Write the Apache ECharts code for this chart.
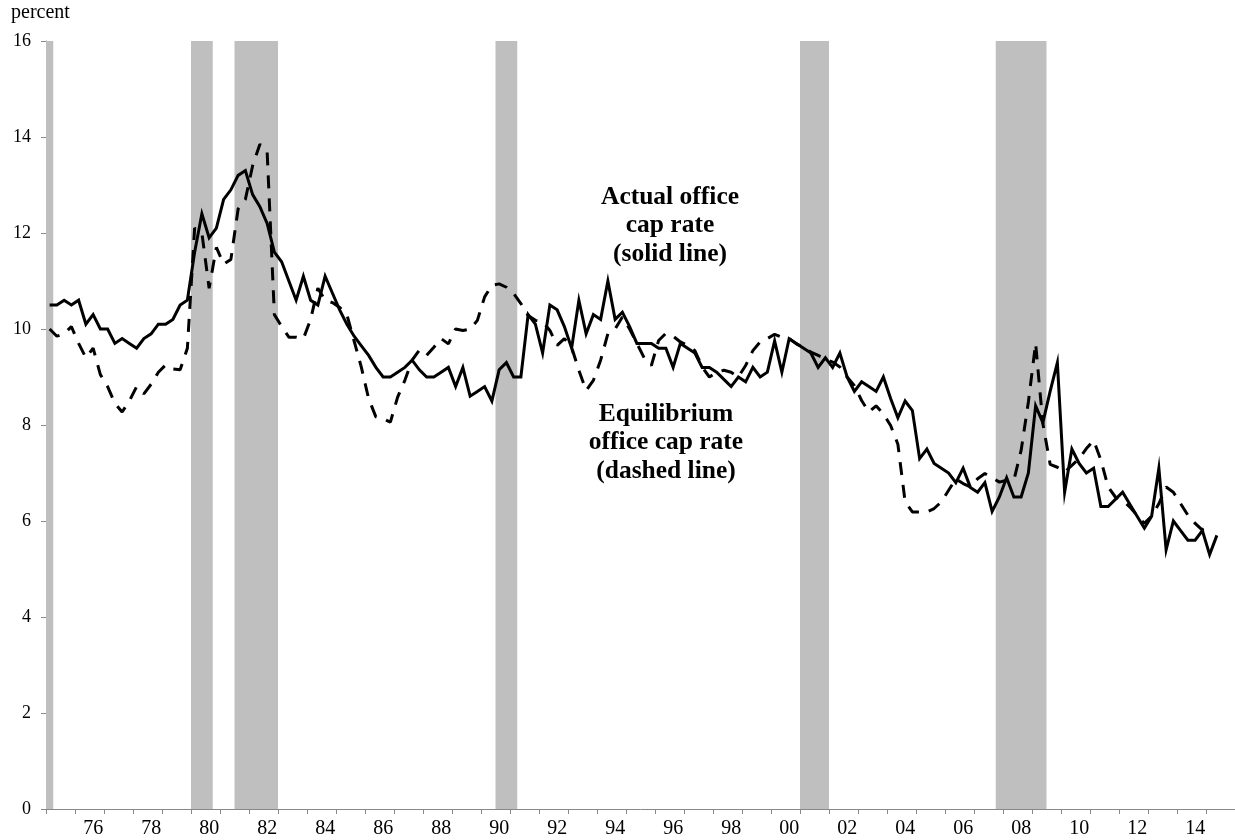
<!DOCTYPE html>
<html>
<head>
<meta charset="utf-8">
<script src="https://cdn.jsdelivr.net/npm/echarts@6/dist/echarts.min.js"></script>
<style>
  html, body { margin: 0; padding: 0; background: #fff; }
  #myChart { width: 1235px; height: 840px; }
</style>
</head>
<body>
<div id="myChart"></div>
<script>
// quarters 1975Q1 .. 2015Q4
var firstYear = 1975;
var lastYear = 2015;
var quarters = [];
for (var y = firstYear; y <= lastYear; y++) {
  for (var q = 1; q <= 4; q++) quarters.push(y + 'Q' + q);
}

// actual office cap rate (solid line), percent, 1975Q1 .. 2015Q2
var actualRate = [
  10.5, 10.5, 10.6, 10.5, 10.6, 10.1, 10.3, 10.0, 10.0, 9.7,
  9.8, 9.7, 9.6, 9.8, 9.9, 10.1, 10.1, 10.2, 10.5, 10.6,
  11.6, 12.4, 11.9, 12.1, 12.7, 12.9, 13.2, 13.3, 12.8, 12.55,
  12.2, 11.6, 11.4, 11.0, 10.6, 11.1, 10.6, 10.5, 11.1, 10.75,
  10.4, 10.1, 9.85, 9.65, 9.45, 9.2, 9.0, 9.0, 9.1, 9.2,
  9.35, 9.15, 9.0, 9.0, 9.1, 9.2, 8.8, 9.2, 8.6, 8.7,
  8.8, 8.5, 9.15, 9.3, 9.0, 9.0, 10.3, 10.1, 9.5, 10.5,
  10.4, 10.05, 9.6, 10.6, 9.9, 10.3, 10.2, 11.0, 10.2, 10.35,
  10.05, 9.7, 9.7, 9.7, 9.6, 9.6, 9.2, 9.7, 9.6, 9.5,
  9.2, 9.2, 9.1, 8.95, 8.8, 9.0, 8.9, 9.2, 9.0, 9.1,
  9.75, 9.1, 9.8, 9.7, 9.6, 9.5, 9.2, 9.4, 9.2, 9.5,
  9.0, 8.7, 8.9, 8.8, 8.7, 9.0, 8.55, 8.15, 8.5, 8.3,
  7.3, 7.5, 7.2, 7.1, 7.0, 6.8, 7.1, 6.7, 6.6, 6.8,
  6.2, 6.5, 6.9, 6.5, 6.5, 7.0, 8.4, 8.05, 8.7, 9.3,
  6.6, 7.5, 7.2, 7.0, 7.1, 6.3, 6.3, 6.45, 6.6, 6.35,
  6.1, 5.85, 6.1, 7.1, 5.4, 6.0, 5.8, 5.6, 5.6, 5.8,
  5.3, 5.7
];

// equilibrium office cap rate (dashed line), percent, 1975Q1 .. 2015Q1
var equilibriumRate = [
  10.0, 9.85, 9.9, 10.05, 9.7, 9.4, 9.6, 9.05, 8.8, 8.45,
  8.27, 8.5, 8.8, 8.65, 8.85, 9.1, 9.25, 9.17, 9.15, 9.6,
  12.1, 12.0, 10.85, 11.7, 11.35, 11.45, 12.5, 12.7, 13.4, 13.85,
  13.7, 10.3, 10.05, 9.83, 9.83, 9.8, 10.2, 10.85, 10.6, 10.55,
  10.45, 10.3, 9.75, 9.2, 8.55, 8.17, 8.13, 8.06, 8.58, 8.93,
  9.35, 9.56, 9.45, 9.62, 9.8, 9.69, 10.0, 9.97, 10.0, 10.18,
  10.67, 10.91, 10.94, 10.87, 10.74, 10.53, 10.28, 10.18, 10.15, 9.97,
  9.66, 9.8, 9.62, 9.14, 8.72, 8.93, 9.35, 9.9, 10.0, 10.25,
  10.0, 9.7, 9.4, 9.24, 9.76, 9.91, 9.85, 9.73, 9.66, 9.55,
  9.21, 9.0, 9.1, 9.14, 9.1, 9.0, 9.24, 9.55, 9.73, 9.8,
  9.89, 9.83, 9.8, 9.69, 9.61, 9.52, 9.45, 9.38, 9.31, 9.21,
  9.0, 8.82, 8.51, 8.27, 8.4, 8.23, 7.99, 7.6, 6.4, 6.19,
  6.19, 6.19, 6.26, 6.4, 6.64, 6.88, 6.78, 6.71, 6.88, 6.99,
  6.9, 6.81, 6.85, 6.85, 7.47, 8.48, 9.7, 8.03, 7.18, 7.12,
  7.02, 7.16, 7.3, 7.51, 7.68, 7.27, 6.71, 6.5, 6.43, 6.29,
  6.12, 5.95, 6.1, 6.36, 6.71, 6.6, 6.36, 6.12, 5.95, 5.81,
  5.81
];

// NBER recessions (shaded bars), first and last quarter
var recessionStart = ['1975Q1', '1980Q1', '1981Q3', '1990Q3', '2001Q1', '2007Q4'];
var recessionEnd   = ['1975Q1', '1980Q3', '1982Q4', '1991Q1', '2001Q4', '2009Q2'];

// y axis range
var yMin = 0, yMax = 16, yStep = 2;

// one [first, last] category index pair per recession
var recessionSpans = recessionStart.map(function (s, k) {
  return [quarters.indexOf(s), quarters.indexOf(recessionEnd[k])];
});

var serif = '"Liberation Serif", "Times New Roman", serif';
var axisGray = '#888888';
var shade = '#bfbfbf';

// shaded band covering whole quarters from first to last, full plot height
function renderRecession(params, api) {
  var top = api.coord([api.value(0), yMax]);
  var bottom = api.coord([api.value(1), yMin]);
  var band = api.size([1, 0])[0];
  return {
    type: 'rect',
    shape: {
      x: top[0] - band / 2,
      y: top[1],
      width: bottom[0] - top[0] + band,
      height: bottom[1] - top[1]
    },
    style: { fill: shade }
  };
}

var myChart = echarts.init(document.getElementById('myChart'));
var option = {
  animation: false,
  backgroundColor: '#fff',
  grid: { left: 46, top: 41, width: 1192, bottom: 31, containLabel: false },
  xAxis: {
    type: 'category',
    data: quarters,
    boundaryGap: true,
    axisLine: { show: true, lineStyle: { color: axisGray, width: 1 } },
    axisTick: {
      show: true, length: 5, inside: false,
      interval: function (index) { return index % 4 === 0; },
      lineStyle: { color: axisGray }
    },
    axisLabel: {
      interval: function (index) { return index % 8 === 6; },
      formatter: function (v) { return v.slice(2, 4); },
      fontFamily: serif, fontSize: 20, color: '#000', margin: 10
    },
    splitLine: { show: false }
  },
  yAxis: {
    type: 'value',
    min: yMin, max: yMax, interval: yStep,
    axisLine: { show: true, lineStyle: { color: axisGray, width: 1 } },
    axisTick: { show: true, length: 5, inside: false, lineStyle: { color: axisGray } },
    axisLabel: { fontFamily: serif, fontSize: 18, color: '#000', margin: 15 },
    splitLine: { show: false }
  },
  graphic: [
    {
      type: 'text', x: 11, y: 3,
      style: { text: 'percent', font: '20px ' + serif, fill: '#000', align: 'left', verticalAlign: 'top' }
    },
    {
      type: 'text', x: 670, y: 183, z: 100,
      style: {
        text: 'Actual office\ncap rate\n(solid line)',
        font: 'bold 25.5px ' + serif, fill: '#000',
        align: 'center', verticalAlign: 'top', lineHeight: 28.5
      }
    },
    {
      type: 'text', x: 666, y: 400, z: 100,
      style: {
        text: 'Equilibrium\noffice cap rate\n(dashed line)',
        font: 'bold 25.5px ' + serif, fill: '#000',
        align: 'center', verticalAlign: 'top', lineHeight: 28.5
      }
    }
  ],
  series: [
    {
      name: 'Recession',
      type: 'custom',
      data: recessionSpans,
      encode: { x: [0, 1] },
      renderItem: renderRecession,
      silent: true,
      z: 1
    },
    {
      name: 'Equilibrium office cap rate',
      type: 'line',
      data: equilibriumRate,
      showSymbol: false,
      lineStyle: { color: '#000', width: 3, type: [13, 10] },
      z: 3
    },
    {
      name: 'Actual office cap rate',
      type: 'line',
      data: actualRate,
      showSymbol: false,
      lineStyle: { color: '#000', width: 3, join: 'miter' },
      z: 4
    }
  ]
};
window.onresize = myChart.resize;
myChart.setOption(option);
</script>
</body>
</html>
